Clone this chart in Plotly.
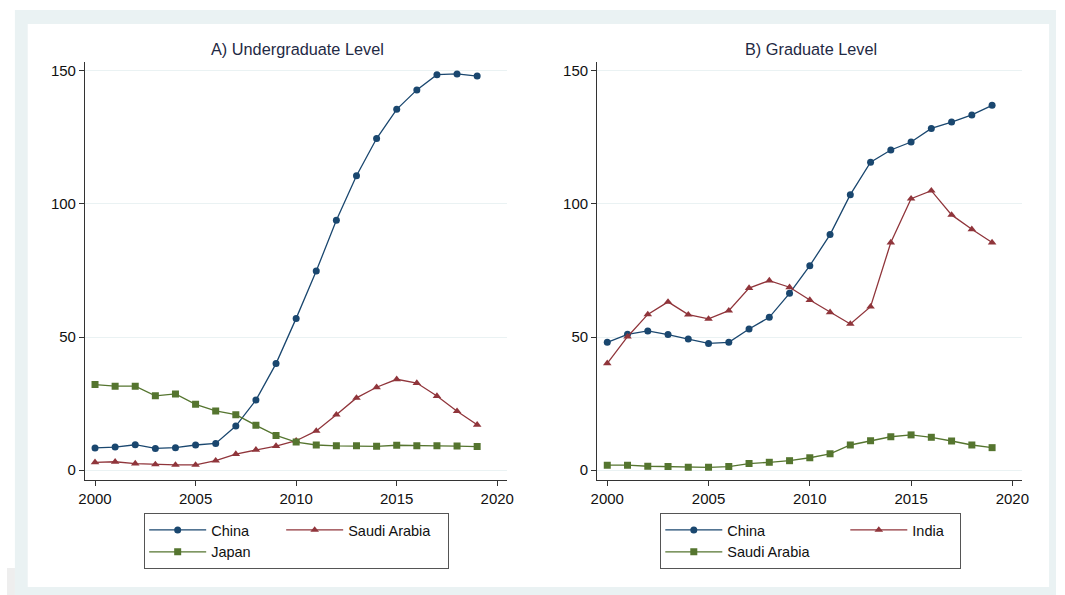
import plotly.graph_objects as go

# Academic years covered by both panels
years = [2000, 2001, 2002, 2003, 2004, 2005, 2006, 2007, 2008, 2009,
         2010, 2011, 2012, 2013, 2014, 2015, 2016, 2017, 2018, 2019]

# Panel A: undergraduate level
ug_china = [8.3, 8.6, 9.5, 8.1, 8.4, 9.4, 10.0, 16.5, 26.3, 40.0,
            57.0, 74.8, 93.9, 110.6, 124.6, 135.6, 142.9, 148.6, 148.9, 148.1]
ug_saudi = [2.9, 3.1, 2.4, 2.1, 1.9, 1.9, 3.5, 6.0, 7.6, 9.0,
            11.0, 14.7, 20.8, 27.1, 31.1, 34.1, 32.7, 27.8, 22.1, 17.0]
ug_japan = [32.1, 31.5, 31.5, 27.9, 28.6, 24.7, 22.2, 20.8, 16.8, 13.0,
            10.5, 9.4, 9.1, 9.1, 8.9, 9.3, 9.1, 9.1, 9.0, 8.8]

# Panel B: graduate level
gr_china = [48.0, 51.0, 52.3, 50.9, 49.2, 47.6, 48.0, 53.0, 57.4, 66.4,
            76.8, 88.5, 103.5, 115.7, 120.3, 123.3, 128.4, 130.8, 133.5, 137.1]
gr_india = [40.1, 50.1, 58.5, 63.2, 58.4, 56.8, 59.9, 68.4, 71.2, 68.7,
            63.9, 59.3, 54.9, 61.4, 85.5, 102.0, 105.0, 95.9, 90.5, 85.5]
gr_saudi = [1.8, 1.8, 1.4, 1.3, 1.0, 1.0, 1.3, 2.4, 2.9, 3.5,
            4.6, 6.1, 9.4, 11.0, 12.5, 13.2, 12.3, 10.9, 9.4, 8.4]

panel_titles = ["A) Undergraduate Level", "B) Graduate Level"]
x_ticks = [2000, 2005, 2010, 2015, 2020]
y_ticks = [0, 50, 100, 150]

NAVY = "#1a476f"
MAROON = "#90353b"
GREEN = "#55752f"
FRAME = "#eaf2f3"
FONT = "Liberation Sans, Arial, sans-serif"

W, H = 1065, 595


def px_x(p):
    return p / W


def px_y(p):
    return 1 - p / H


fig = go.Figure()


def add_series(x, y, name, color, symbol, xa, ya, legend, group, width=None):
    fig.add_trace(go.Scatter(
        x=x, y=y, name=name, mode="lines+markers",
        line=dict(color=color, width=1.3),
        marker=dict(color=color, symbol=symbol, size=7 if symbol != "triangle-up" else 7.5),
        xaxis=xa, yaxis=ya, legend=legend, legendgroup=group,
        legendwidth=width,
    ))


# Panel A series
add_series(years, ug_china, "China", NAVY, "circle", "x", "y", "legend", "a1", 65)
add_series(years, ug_saudi, "Saudi Arabia", MAROON, "triangle-up", "x", "y", "legend", "a2", 95)
add_series(years, ug_japan, "Japan", GREEN, "square", "x", "y", "legend", "a1", 65)

# Panel B series
add_series(years, gr_china, "China", NAVY, "circle", "x2", "y2", "legend2", "b1", 113)
add_series(years, gr_india, "India", MAROON, "triangle-up", "x2", "y2", "legend2", "b2", 43)
add_series(years, gr_saudi, "Saudi Arabia", GREEN, "square", "x2", "y2", "legend2", "b1", 113)

x_common = dict(
    range=[1999.5, 2020.5], tickvals=x_ticks, ticks="outside", ticklen=5,
    tickcolor="#333333", showline=True, linecolor="#333333", linewidth=1,
    showgrid=False, zeroline=False,
    tickfont=dict(family=FONT, size=15, color="#111111"),
)
y_common = dict(
    range=[-3.76, 153.38], tickvals=y_ticks, ticks="outside", ticklen=5,
    tickcolor="#333333", showline=True, linecolor="#333333", linewidth=1,
    showgrid=True, gridcolor=FRAME, gridwidth=1, zeroline=False,
    tickfont=dict(family=FONT, size=15, color="#111111"),
)

dom_y = [px_y(480), px_y(62)]

legend_common = dict(
    orientation="h", traceorder="grouped", xanchor="left", yanchor="top",
    bgcolor="white", bordercolor="#555555", borderwidth=1,
    itemwidth=57, tracegroupgap=0,
    font=dict(family=FONT, size=14.5, color="#111111"),
)

fig.update_layout(
    width=W, height=H,
    margin=dict(l=0, r=0, t=0, b=0),
    paper_bgcolor="white", plot_bgcolor="white",
    xaxis=dict(domain=[px_x(79), px_x(507)], anchor="y", **x_common),
    yaxis=dict(domain=dom_y, anchor="x", **y_common),
    xaxis2=dict(domain=[px_x(598), px_x(1029)], anchor="y2", **x_common),
    yaxis2=dict(domain=dom_y, anchor="x2", **y_common),
    legend=dict(x=px_x(139), y=px_y(513), **legend_common),
    legend2=dict(x=px_x(662), y=px_y(513), **legend_common),
    showlegend=True,
    shapes=[
        # page corner and the light outer frame with its white inner area
        dict(type="rect", xref="paper", yref="paper", layer="below",
             x0=0, x1=px_x(8), y0=px_y(595), y1=px_y(568),
             fillcolor="#eeeeee", line=dict(width=0)),
        dict(type="rect", xref="paper", yref="paper", layer="below",
             x0=px_x(8), x1=px_x(1063), y0=px_y(595), y1=px_y(10),
             fillcolor=FRAME, line=dict(width=0)),
        dict(type="rect", xref="paper", yref="paper", layer="below",
             x0=px_x(21), x1=px_x(1056), y0=px_y(587), y1=px_y(24),
             fillcolor="white", line=dict(width=0)),
    ],
    annotations=[
        dict(text=panel_titles[0], xref="paper", yref="paper",
             x=px_x(294), y=px_y(49), xanchor="center", yanchor="middle",
             showarrow=False, font=dict(family=FONT, size=16.3, color="#1f2a44")),
        dict(text=panel_titles[1], xref="paper", yref="paper",
             x=px_x(815), y=px_y(49), xanchor="center", yanchor="middle",
             showarrow=False, font=dict(family=FONT, size=16.3, color="#1f2a44")),
    ],
)

fig.write_html("out.html")
